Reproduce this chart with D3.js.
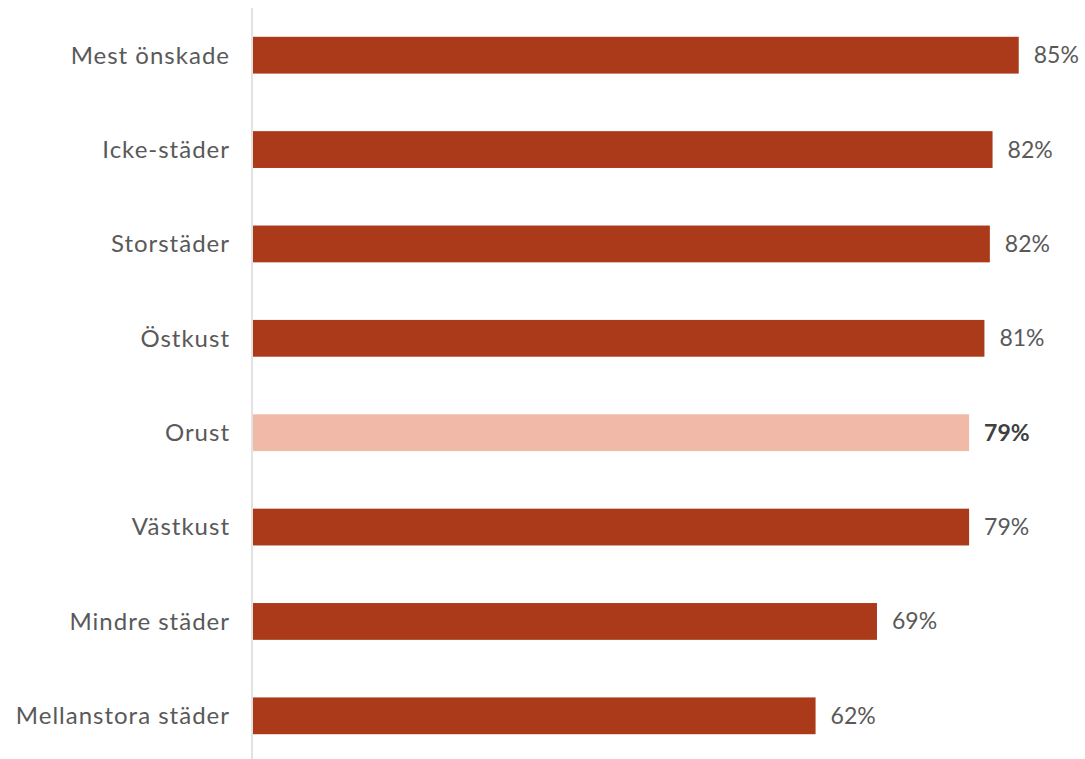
<!DOCTYPE html>
<html><head><meta charset="utf-8">
<script src="https://cdn.jsdelivr.net/npm/d3@7"></script>
<style>
html,body{margin:0;padding:0;background:#fff;}
svg{display:block;}
text{font-family:"Lato","Open Sans",sans-serif;}
</style></head>
<body>
<svg id="chart" width="1085" height="759"></svg>
<script>
const categories = ["Mest önskade","Icke-städer","Storstäder","Östkust","Orust","Västkust","Mindre städer","Mellanstora städer"];
const values = [84.8, 81.9, 81.6, 81.0, 79.3, 79.3, 69.1, 62.3];
const valueLabels = ["85%","82%","82%","81%","79%","79%","69%","62%"];
const highlight = "Orust";

const svg = d3.select("#chart");
const x0 = 253;
const x = d3.scaleLinear().domain([0, 92]).range([x0, x0 + 92 * 9.03]);
const y = d3.scaleBand().domain(categories).range([8, 763]).paddingInner(0.61).paddingOuter(0.305);

svg.append("line").attr("x1", 252).attr("x2", 252).attr("y1", 8).attr("y2", 759)
  .attr("stroke", "#d9d9d9").attr("stroke-width", 1.5);

svg.selectAll("rect.bar").data(categories).join("rect").attr("class","bar")
  .attr("x", x(0)).attr("y", d => y(d))
  .attr("width", (d,i) => x(values[i]) - x(0)).attr("height", y.bandwidth())
  .attr("fill", d => d === highlight ? "#f0b9a8" : "#aa3a1a");

svg.selectAll("text.cat").data(categories).join("text").attr("class","cat")
  .attr("x", 230).attr("y", d => y(d) + y.bandwidth()/2).attr("dy","0.35em")
  .attr("text-anchor","end").attr("font-size", 24).attr("letter-spacing", 1).attr("fill","#595959")
  .text(d => d);

svg.selectAll("text.val").data(categories).join("text").attr("class","val")
  .attr("x", (d,i) => x(values[i]) + 15).attr("y", d => y(d) + y.bandwidth()/2).attr("dy","0.35em")
  .attr("font-size", 23)
  .attr("font-weight", d => d === highlight ? "bold" : "normal")
  .attr("fill", d => d === highlight ? "#404040" : "#595959")
  .text((d,i) => valueLabels[i]);
</script>
</body></html>
